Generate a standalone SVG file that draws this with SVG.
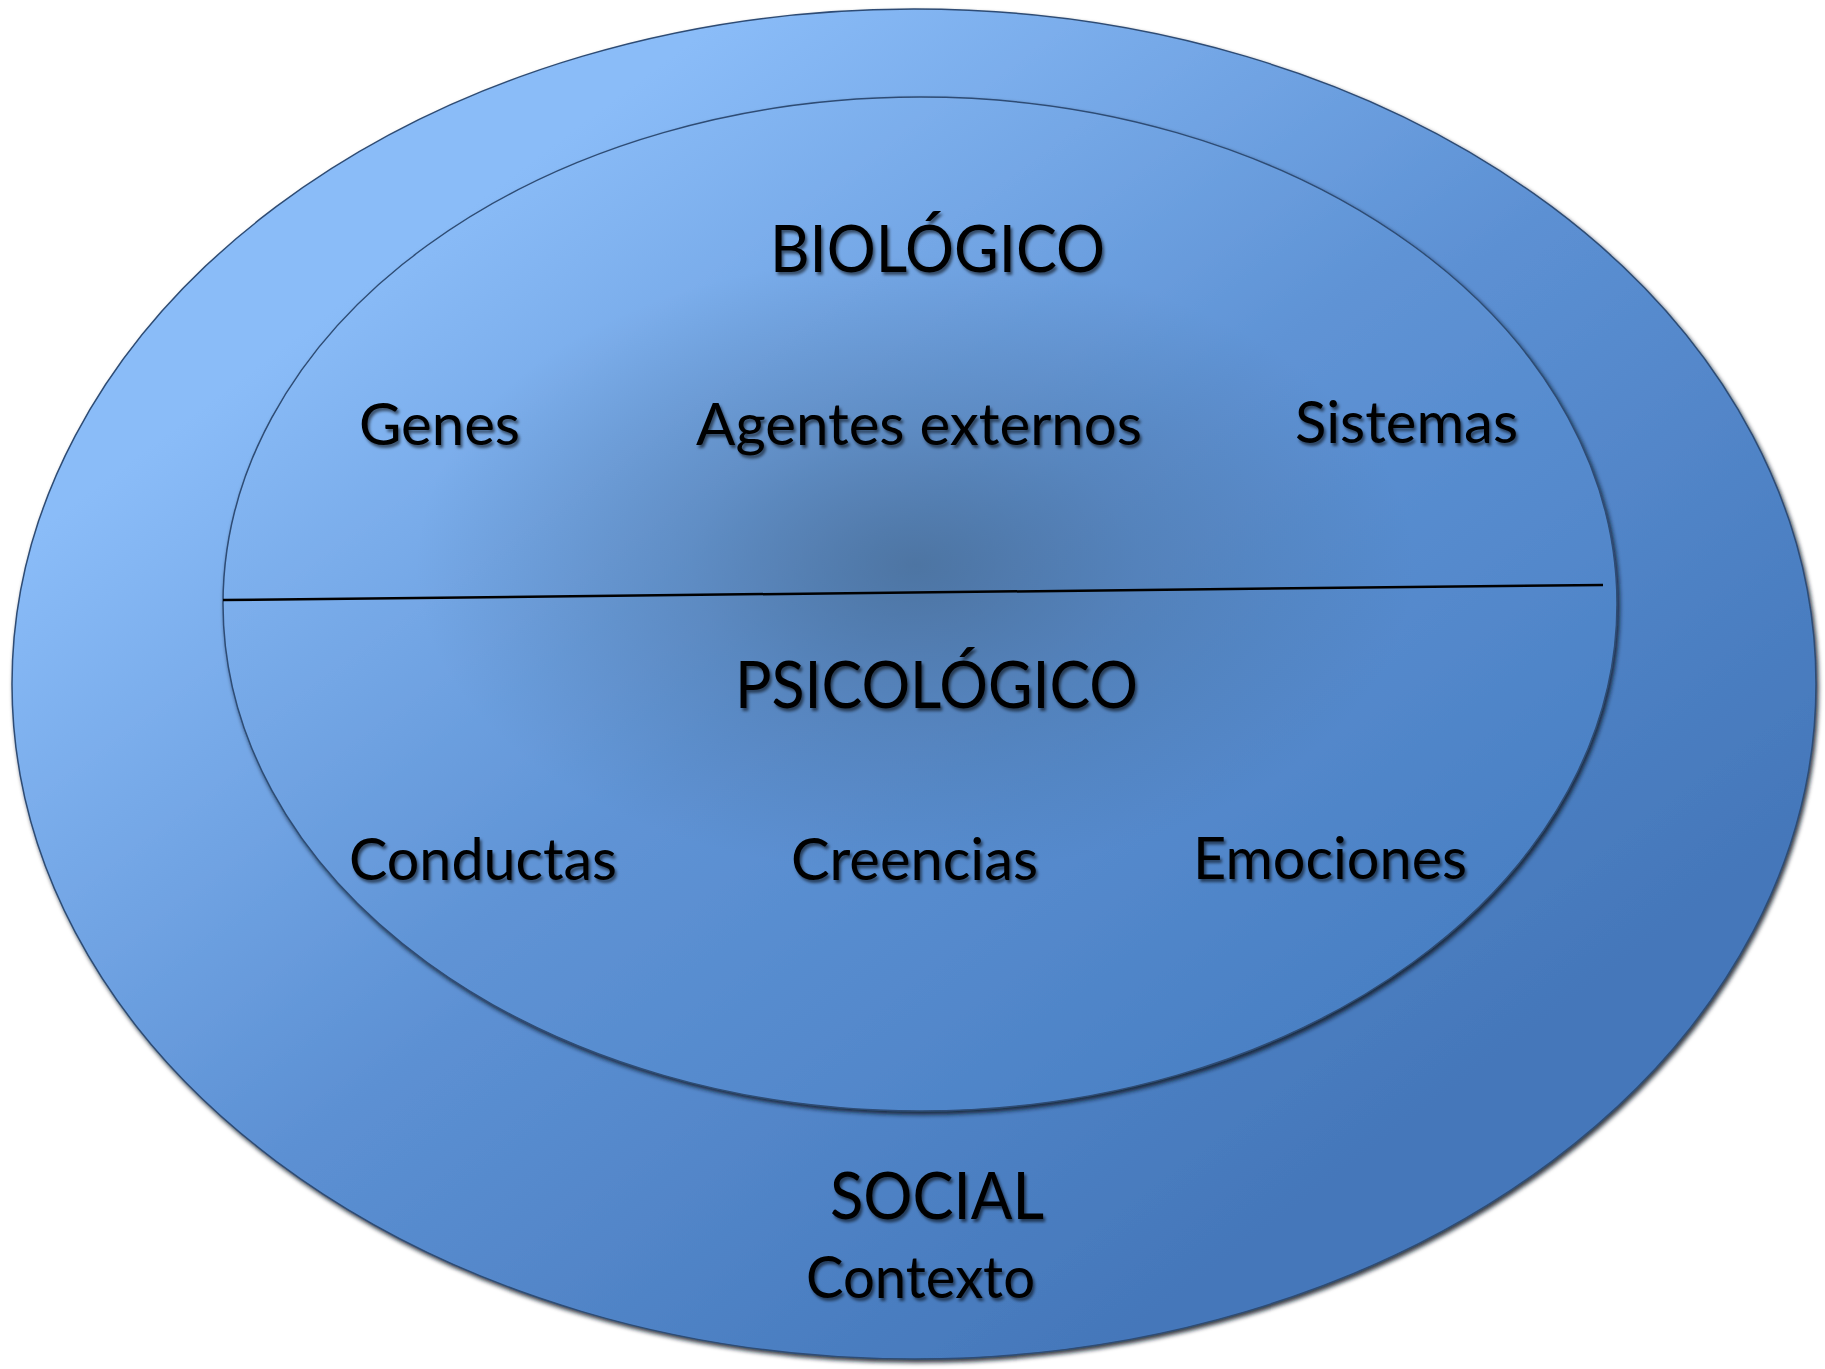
<svg xmlns="http://www.w3.org/2000/svg" width="1825" height="1369" viewBox="0 0 1825 1369">
  <defs>
    <linearGradient id="gOuter" x1="0" y1="0" x2="1" y2="1">
      <stop offset="0.2" stop-color="#8ABCF8"/>
      <stop offset="0.5" stop-color="#5C90D3"/>
      <stop offset="0.8" stop-color="#4477BA"/>
    </linearGradient>
    <linearGradient id="gInner" x1="0" y1="0" x2="1" y2="1">
      <stop offset="0.15" stop-color="#88BAF6"/>
      <stop offset="0.5" stop-color="#5F93D5"/>
      <stop offset="0.85" stop-color="#4A80C4"/>
    </linearGradient>
    <radialGradient id="gCenter" cx="915" cy="565" r="500" gradientUnits="userSpaceOnUse" gradientTransform="translate(915 565) scale(1 0.62) translate(-915 -565)">
      <stop offset="0" stop-color="#405F80" stop-opacity="0.6"/>
      <stop offset="0.45" stop-color="#405F80" stop-opacity="0.28"/>
      <stop offset="1" stop-color="#405F80" stop-opacity="0"/>
    </radialGradient>
    <filter id="shape-shadow" x="-5%" y="-5%" width="110%" height="110%">
      <feDropShadow dx="2" dy="3" stdDeviation="2" flood-color="#0A1626" flood-opacity="0.85"/>
    </filter>
    <filter id="text-shadow" x="-10%" y="-20%" width="120%" height="150%">
      <feDropShadow dx="2" dy="3" stdDeviation="1.8" flood-color="#000000" flood-opacity="0.55"/>
    </filter>
  </defs>
  <style>
    .lbl { font-family: Lato, "Open Sans", "Liberation Sans", sans-serif; fill: #000; filter: url(#text-shadow); }
    .title { font-size: 66px; }
    .item { font-size: 58px; }
    .rim { stroke: #2E4C74; stroke-width: 1.5; }
  </style>

  <g id="social">
    <ellipse cx="914" cy="684" rx="902" ry="675" fill="url(#gOuter)" class="rim" filter="url(#shape-shadow)"/>
    <text class="lbl title" x="830" y="1219" textLength="214" lengthAdjust="spacingAndGlyphs">SOCIAL</text>
    <text class="lbl item" x="806" y="1298" textLength="229" lengthAdjust="spacingAndGlyphs">Contexto</text>
  </g>

  <g id="inner">
    <ellipse cx="920" cy="604" rx="697" ry="507" fill="url(#gInner)" class="rim" filter="url(#shape-shadow)"/>
    <ellipse cx="920" cy="604" rx="696" ry="506" fill="url(#gCenter)"/>
  </g>

  <g id="connectors">
    <line x1="223" y1="600" x2="1603" y2="585" stroke="#000" stroke-width="2.5"/>
  </g>

  <g id="biologico">
    <text class="lbl title" x="770" y="272" textLength="335" lengthAdjust="spacingAndGlyphs">BIOLÓGICO</text>
    <text class="lbl item" x="359" y="445" textLength="161" lengthAdjust="spacingAndGlyphs">Genes</text>
    <text class="lbl item" x="696" y="445" textLength="446" lengthAdjust="spacingAndGlyphs">Agentes externos</text>
    <text class="lbl item" x="1295" y="443" textLength="223" lengthAdjust="spacingAndGlyphs">Sistemas</text>
  </g>

  <g id="psicologico">
    <text class="lbl title" x="735" y="708" textLength="403" lengthAdjust="spacingAndGlyphs">PSICOLÓGICO</text>
    <text class="lbl item" x="349" y="880" textLength="268" lengthAdjust="spacingAndGlyphs">Conductas</text>
    <text class="lbl item" x="791" y="880" textLength="247" lengthAdjust="spacingAndGlyphs">Creencias</text>
    <text class="lbl item" x="1193" y="879" textLength="274" lengthAdjust="spacingAndGlyphs">Emociones</text>
  </g>
</svg>
